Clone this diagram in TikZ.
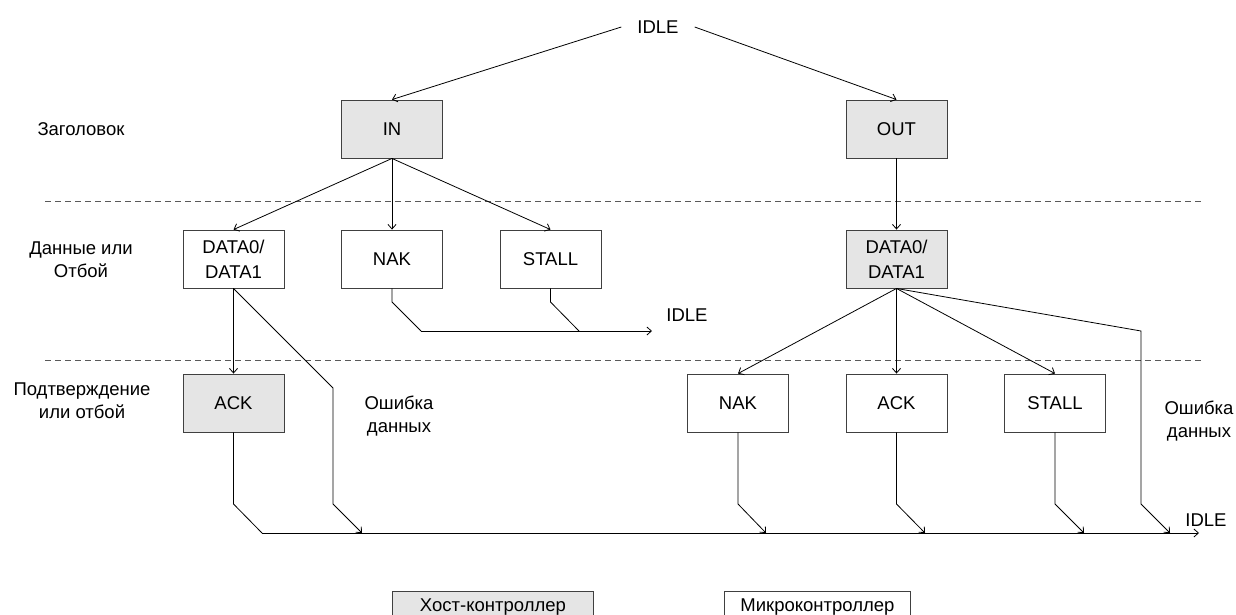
\documentclass[tikz,border=0pt]{standalone}
\usepackage{fontspec}
\setmainfont{Liberation Sans}
\usetikzlibrary{arrows.meta}
\begin{document}
\begin{tikzpicture}[x=1pt,y=-1pt,
  font=\fontsize{18.5}{25}\selectfont,
  box/.style={draw=black!75, line width=0.9pt, minimum width=101pt, minimum height=58pt, inner sep=0pt, align=center},
  host/.style={box, fill=black!10},
  dev/.style={box, fill=white},
  conn/.style={draw=black, line width=0.8pt},
  arr/.style={conn, -{Straight Barb[length=4.5pt,width=8pt]}},
  sep/.style={draw=black!65, line width=0.9pt, dash pattern=on 6pt off 4pt},
  lbl/.style={align=center, inner sep=0pt, font=\fontsize{18.5}{23}\selectfont},
  leg/.style={draw=black!75, line width=0.9pt, minimum height=31pt, inner sep=0pt, anchor=north west}
]
\useasboundingbox (0,0) rectangle (1236,614);

% separators
\coordinate (s1a) at (45,201); \coordinate (s1b) at (1202,201);
\coordinate (s2a) at (45,360); \coordinate (s2b) at (1202,360);
\draw[sep] (s1a) -- (s1b);
\draw[sep] (s2a) -- (s2b);

% row labels
\node[lbl] (lh) at (81,129) {Заголовок};
\node[lbl] (ld) at (81,260) {Данные или\\Отбой};
\node[lbl] (la) at (82,401) {Подтверждение\\или отбой};

% top
\node[lbl, minimum width=73pt] (idle0) at (658,27) {IDLE};
\node[host] (in) at (392,129) {IN};
\node[host] (out) at (896.5,129) {OUT};

% data row
\node[dev] (d0l) at (233.5,259) {DATA0/\\DATA1};
\node[dev] (nakl) at (392,259) {NAK};
\node[dev] (stalll) at (550.5,259) {STALL};
\node[host] (d0r) at (896.5,259) {DATA0/\\DATA1};

% handshake row
\node[host] (ackl) at (233.5,403) {ACK};
\node[dev] (nakr) at (738,403) {NAK};
\node[dev] (ackr) at (896.5,403) {ACK};
\node[dev] (stallr) at (1055,403) {STALL};

\node[lbl] (errl) at (399,416) {Ошибка\\данных};
\node[lbl] (errr) at (1199,421) {Ошибка\\данных};
\node[lbl] (idle1) at (687,315) {IDLE};
\node[lbl] (idle2) at (1206,520) {IDLE};

% legend
\node[leg, fill=black!10, minimum width=201pt] (lhost) at (392,591) {Хост-контроллер};
\node[leg, fill=white, minimum width=186pt] (ldev) at (724,591) {Микроконтроллер};

% connectors from top
\draw[arr] (idle0.west) -- (in.north);
\draw[arr] (idle0.east) -- (out.north);
\draw[arr] (in.south) -- (d0l.north);
\draw[arr] (in.south) -- (nakl.north);
\draw[arr] (in.south) -- (stalll.north);
\draw[arr] (out.south) -- (d0r.north);

% left data branch
\draw[arr] (d0l.south) -- (ackl.north);
\coordinate (el1) at (333,388);
\coordinate (el2) at (333,504);
\coordinate (el3) at (362,533);
\draw[arr] (d0l.south) -- (el1) -- (el2) -- (el3);

% NAK / STALL to IDLE (middle)
\coordinate (nk1) at (392,302);
\coordinate (m0) at (421,331);
\coordinate (st1) at (550.5,302);
\coordinate (st2) at (579,331);
\coordinate (mend) at (652,331);
\draw[conn] (nakl.south) -- (nk1) -- (m0);
\draw[arr] (m0) -- (mend);
\draw[conn] (stalll.south) -- (st1) -- (st2);

% bottom IDLE bus
\coordinate (ak1) at (233.5,504);
\coordinate (b0) at (262,533);
\coordinate (bend) at (1199,533);
\draw[conn] (ackl.south) -- (ak1) -- (b0);
\draw[arr] (b0) -- (bend);

% right data branch
\draw[arr] (d0r.south) -- (nakr.north);
\draw[arr] (d0r.south) -- (ackr.north);
\draw[arr] (d0r.south) -- (stallr.north);
\coordinate (er1) at (1141,331);
\coordinate (er2) at (1141,504);
\coordinate (er3) at (1170,533);
\draw[arr] (d0r.south) -- (er1) -- (er2) -- (er3);

\coordinate (nr1) at (738,504);
\coordinate (nr2) at (766,533);
\draw[arr] (nakr.south) -- (nr1) -- (nr2);
\coordinate (ar1) at (896.5,504);
\coordinate (ar2) at (925,533);
\draw[arr] (ackr.south) -- (ar1) -- (ar2);
\coordinate (sr1) at (1055,504);
\coordinate (sr2) at (1084,533);
\draw[arr] (stallr.south) -- (sr1) -- (sr2);
\end{tikzpicture}
\end{document}
